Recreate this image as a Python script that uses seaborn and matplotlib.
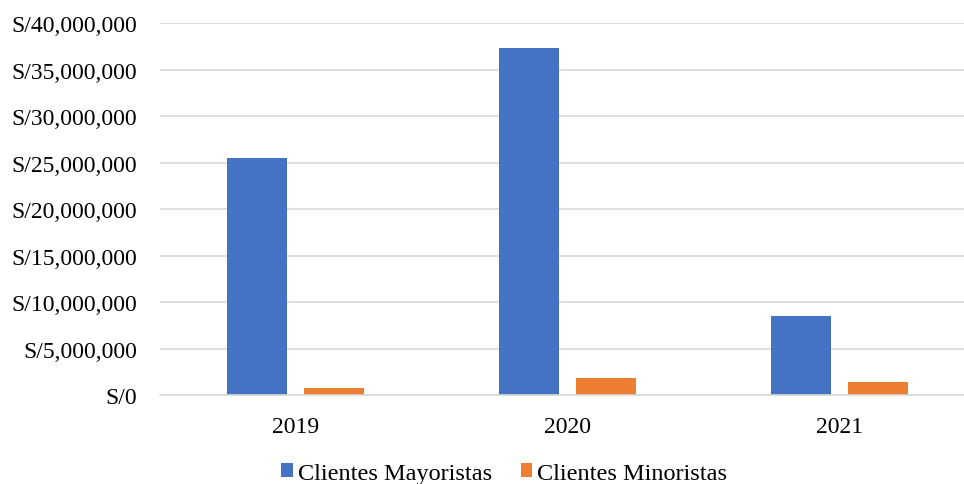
import matplotlib
matplotlib.use("Agg")
import matplotlib.pyplot as plt
import seaborn as sns
import pandas as pd
from matplotlib.ticker import FuncFormatter

years = ["2019", "2020", "2021"]
mayoristas = [25_500_000, 37_300_000, 8_450_000]
minoristas = [720_000, 1_800_000, 1_370_000]
series_names = ["Clientes Mayoristas", "Clientes Minoristas"]
colors = ["#4472C4", "#ED7D31"]

df = pd.DataFrame({
    "Año": years * 2,
    "Ventas": mayoristas + minoristas,
    "Serie": [series_names[0]] * 3 + [series_names[1]] * 3,
})

sns.set_theme(style="white")
plt.rcParams["font.family"] = ["Liberation Serif", "DejaVu Serif"]
plt.rcParams["text.color"] = "#000000"

fig = plt.figure(figsize=(9.64, 4.85), dpi=100)
ax = fig.add_axes([0.1655, 0.1835, 0.8465, 0.767])

sns.barplot(data=df, x="Año", y="Ventas", hue="Serie", palette=colors,
            saturation=1, width=0.57, gap=0.23, linewidth=0, ax=ax, legend=True)

ax.set_ylim(0, 40_000_000)
ax.set_yticks(range(0, 40_000_001, 5_000_000))
ax.yaxis.set_major_formatter(FuncFormatter(lambda v, p: f"S/{int(v):,}"))
ax.set_xlabel("")
ax.set_ylabel("")
ax.grid(axis="y", color="#d9d9d9", linewidth=1.2)
ax.set_axisbelow(True)
for s in ["left", "right", "top"]:
    ax.spines[s].set_visible(False)
ax.spines["bottom"].set_color("#d9d9d9")
ax.spines["bottom"].set_linewidth(1.2)
ax.tick_params(axis="both", length=0, labelsize=17, colors="#000000")
ax.tick_params(axis="x", pad=15)
ax.tick_params(axis="y", pad=16)

handles, labels = ax.get_legend_handles_labels()
ax.get_legend().remove()
leg = fig.legend(handles, labels, loc="center", bbox_to_anchor=(0.523, 0.022), ncol=2,
                 frameon=False, fontsize=17.5, handlelength=0.48, handleheight=0.48,
                 handletextpad=0.2, columnspacing=1.2, borderpad=0)
for t in leg.get_texts():
    t.set_color("#000000")

fig.savefig("out.png", dpi=100)
